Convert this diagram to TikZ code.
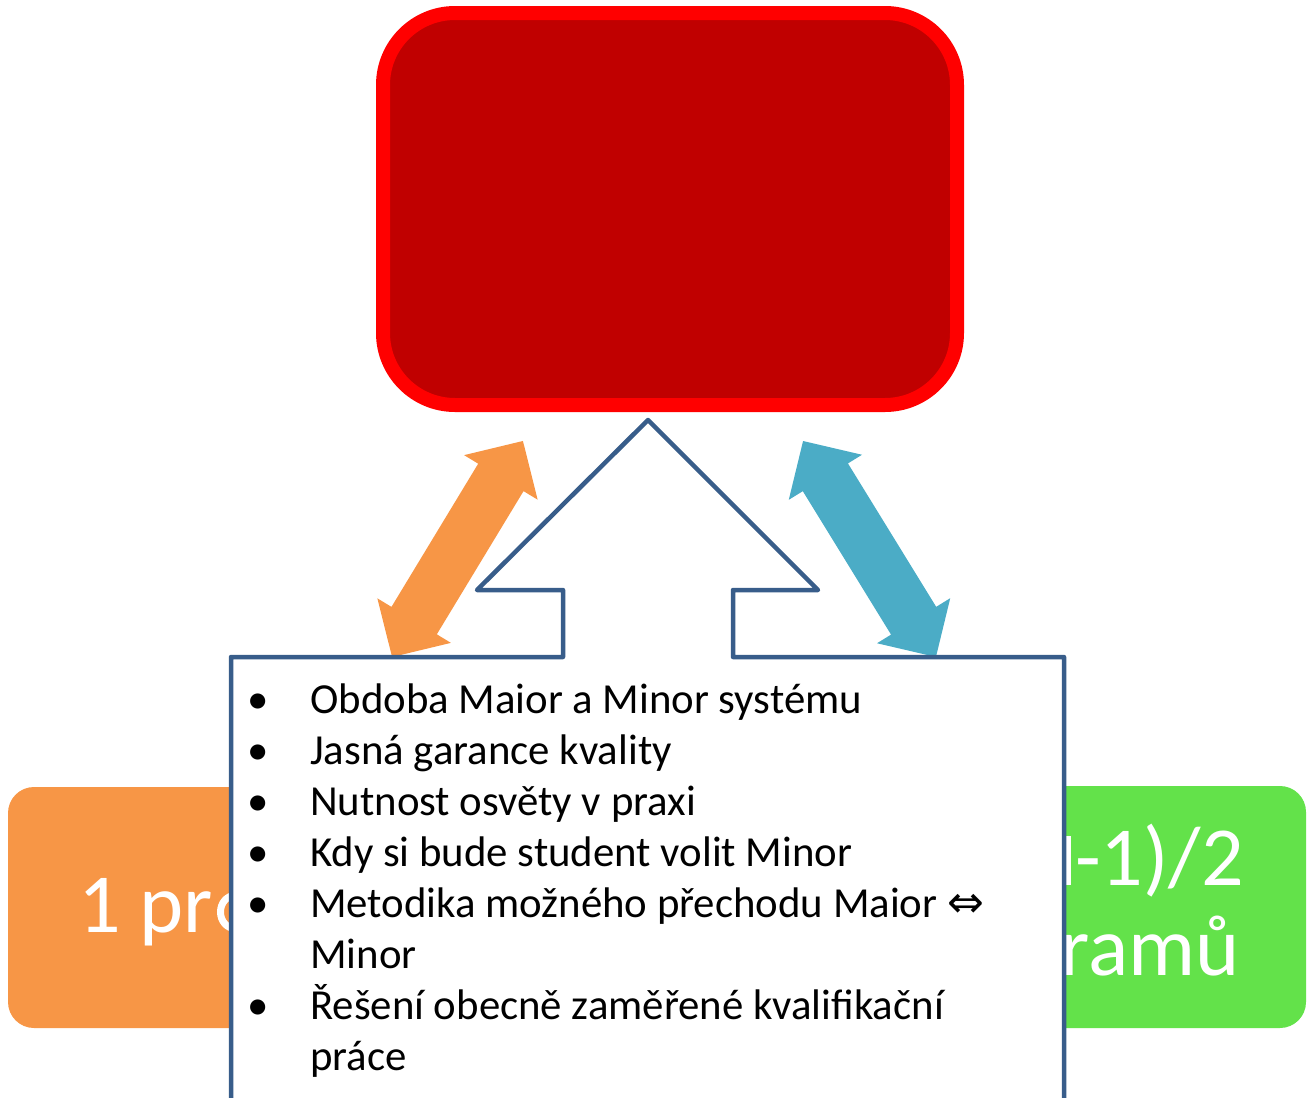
\documentclass[tikz,border=0pt]{standalone}
\usepackage{fontspec}
\setmainfont{Carlito}
\newfontfamily\dejavu{DejaVu Sans}
\definecolor{boxred}{RGB}{192,0,0}
\definecolor{edgered}{RGB}{255,0,0}
\definecolor{orangebox}{RGB}{247,150,70}
\definecolor{greenbox}{RGB}{99,226,74}
\definecolor{bluearrow}{RGB}{75,172,198}
\definecolor{outline}{RGB}{56,93,138}
\tikzset{
  bigtext/.style={text=white,inner sep=0pt,font=\fontsize{84}{90}\selectfont},
  itemtext/.style={inner sep=0pt,anchor=base west,font=\fontsize{42.8}{51}\selectfont},
  bulletmark/.style={inner sep=0pt,anchor=base,font=\fontsize{42.8}{51}\selectfont},
}
\begin{document}
\begin{tikzpicture}[x=1pt,y=-1pt]
\useasboundingbox (0,0) rectangle (1307,1098);
\clip (0,0) rectangle (1307,1098);
% top red box
\node[draw=edgered,fill=boxred,line width=14pt,rounded corners=72pt,
      minimum width=574pt,minimum height=392pt,inner sep=0pt] (top) at (670,209) {};
% left orange box
\node[fill=orangebox,rounded corners=26pt,minimum width=440pt,minimum height=241pt,inner sep=0pt] (left) at (228,907.5) {};
\node[bigtext,anchor=base west] (lefttext) at (78,932) {1 pr};
\begin{scope}
\clip (200,850) rectangle (229,960);
\draw[white,line width=7pt] (235,912) ellipse (14.5pt and 16.5pt);
\end{scope}
% right green box
\node[fill=greenbox,rounded corners=26pt,minimum width=432pt,minimum height=242pt,inner sep=0pt] (right) at (1090,907) {};
\fill[white] (1066,836) rectangle (1071,885);
\node[bigtext,anchor=base east] (righttext1) at (1244,885) {-1)/2};
\node[bigtext,anchor=base east] (righttext2) at (1240,975) {ramů};
% double arrows
\begin{scope}[shift={(457.5,549)},rotate=58.8]
\fill[orangebox] (126.3,0) -- (83.7,43) -- (83.7,26.5) -- (-83.7,26.5) -- (-83.7,43) -- (-126.3,0)
  -- (-83.7,-43) -- (-83.7,-26.5) -- (83.7,-26.5) -- (83.7,-43) -- cycle;
\end{scope}
\begin{scope}[shift={(869.5,549)},rotate=121.6]
\fill[bluearrow] (126.8,0) -- (84.2,43) -- (84.2,26.5) -- (-84.2,26.5) -- (-84.2,43) -- (-126.8,0)
  -- (-84.2,-43) -- (-84.2,-26.5) -- (84.2,-26.5) -- (84.2,-43) -- cycle;
\end{scope}
% callout with up arrow
\draw[outline,fill=white,line width=4.5pt,line join=round]
  (231,1120) -- (231,657) -- (563,657) -- (563,590) -- (477,590) -- (648,420)
  -- (818,590) -- (733,590) -- (733,657) -- (1064,657) -- (1064,1120);
% bullets
\foreach \y/\n in {713/1,764.1/2,815.2/3,866.3/4,917.4/5,1019.6/6}{
  \node[bulletmark] (b\n) at (258,\y) {•};
}
\node[itemtext] (t1) at (310,713) {Obdoba Maior a Minor systému};
\node[itemtext] (t2) at (310,764.1) {Jasná garance kvality};
\node[itemtext] (t3) at (310,815.2) {Nutnost osvěty v praxi};
\node[itemtext] (t4) at (310,866.3) {Kdy si bude student volit Minor};
\node[itemtext] (t5) at (310,917.4) {Metodika možného přechodu Maior {\dejavu\fontsize{44}{44}\selectfont ⇔}};
\node[itemtext] (t6) at (310,968.5) {Minor};
\node[itemtext] (t7) at (310,1019.6) {Řešení obecně zaměřené kvalifikační};
\node[itemtext] (t8) at (310,1070.7) {práce};
\end{tikzpicture}
\end{document}
